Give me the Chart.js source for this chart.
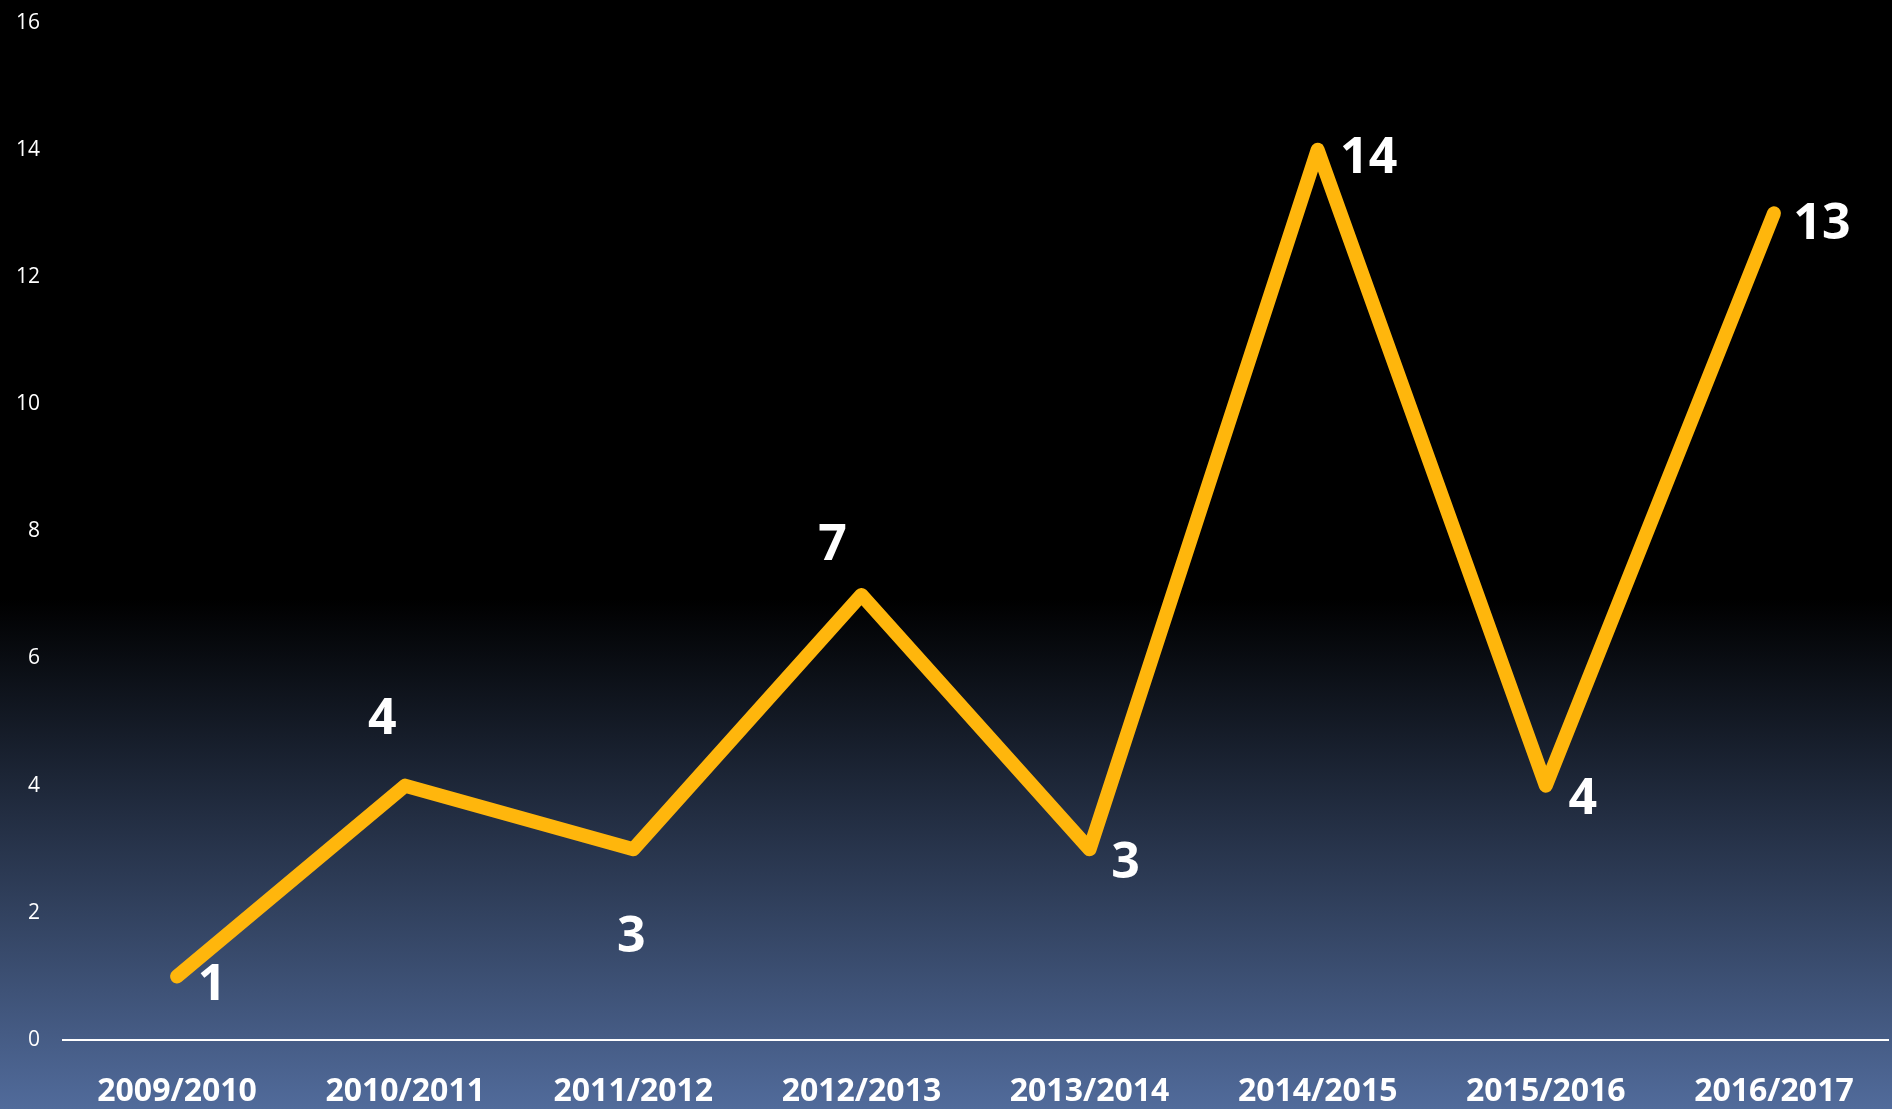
<!DOCTYPE html>
<html>
<head>
<meta charset="utf-8">
<script src="https://cdn.jsdelivr.net/npm/chart.js@4/dist/chart.umd.min.js"></script>
<style>
  html, body { margin: 0; padding: 0; width: 1892px; height: 1109px; overflow: hidden;
    background: linear-gradient(180deg, #000000 0%, #000000 54%, #516b9b 100%); }
  #wrap { position: absolute; left: 0; top: -13px; width: 1892px; height: 1122px; }
</style>
</head>
<body>
<div id="wrap"><canvas id="c"></canvas></div>
<script>
const categories = ["2009/2010", "2010/2011", "2011/2012", "2012/2013", "2013/2014", "2014/2015", "2015/2016", "2016/2017"];
const values = [1, 4, 3, 7, 3, 14, 4, 13];
const yTicks = [0, 2, 4, 6, 8, 10, 12, 14, 16];
// label placement relative to each point (styling only)
const labelOffsets = [[35, 9], [-23, -66], [-2, 89], [-29, -49], [36, 15], [51, 9], [37, 14], [48, 11]];

const valueLabels = {
  id: 'valueLabels',
  afterDatasetsDraw(chart) {
    const ctx = chart.ctx;
    const meta = chart.getDatasetMeta(0);
    ctx.save();
    ctx.fillStyle = '#ffffff';
    ctx.font = 'bold 50px "Open Sans", sans-serif';
    ctx.textAlign = 'center';
    ctx.textBaseline = 'middle';
    meta.data.forEach((pt, i) => {
      const o = labelOffsets[i];
      ctx.fillText(String(values[i]), pt.x + o[0], pt.y + o[1]);
    });
    ctx.restore();
  }
};

new Chart(document.getElementById('c'), {
  type: 'line',
  data: {
    labels: categories,
    datasets: [{
      data: values,
      borderColor: '#ffb60c',
      borderWidth: 14,
      borderCapStyle: 'round',
      borderJoinStyle: 'round',
      pointRadius: 0,
      pointHoverRadius: 0,
      tension: 0,
      fill: false,
      clip: false
    }]
  },
  options: {
    responsive: true,
    maintainAspectRatio: false,
    animation: false,
    layout: { padding: { top: 0, right: 4, left: 0, bottom: 0 } },
    plugins: { legend: { display: false }, tooltip: { enabled: false } },
    scales: {
      x: {
        offset: true,
        afterFit(axis) { axis.height = 69; },
        grid: { display: false, drawTicks: false },
        border: { display: true, color: '#ffffff', width: 2 },
        ticks: {
          color: '#ffffff',
          padding: 33,
          maxRotation: 0,
          autoSkip: false,
          font: { family: '"Open Sans", sans-serif', size: 32, weight: 'bold' }
        }
      },
      y: {
        min: 0,
        max: 16,
        afterBuildTicks(axis) { axis.ticks = yTicks.map(v => ({ value: v })); },
        afterFit(axis) { axis.width = 63; },
        grid: { display: false, drawTicks: false },
        border: { display: false },
        ticks: {
          color: '#ffffff',
          padding: 23,
          font: { family: '"Open Sans", sans-serif', size: 21, weight: 'normal' }
        }
      }
    }
  },
  plugins: [valueLabels]
});
</script>
</body>
</html>
